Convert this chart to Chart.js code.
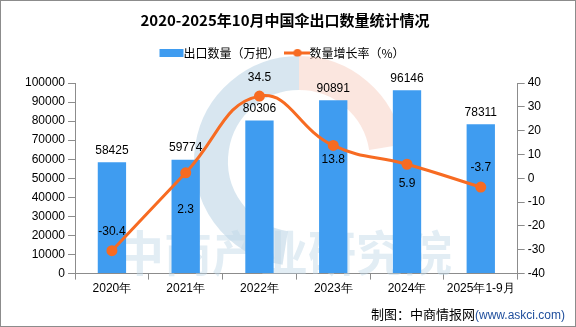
<!DOCTYPE html>
<html>
<head>
<meta charset="utf-8">
<script src="https://cdn.jsdelivr.net/npm/chart.js@4.4.1/dist/chart.umd.min.js"></script>
<style>
    body { margin: 0; background: #fff; }
    #wrap { position: relative; width: 574px; height: 325px; border: 1px solid #8c8c8c; }
    #foot { position: absolute; right: 10px; top: 303px; font: 13px "Noto Sans CJK SC", sans-serif; color: #000; }
    #foot span { color: #1f4e9c; font-family: "Liberation Sans", sans-serif; font-size: 12px; }
</style>
</head>
<body>
<div id="wrap">
    <canvas id="chart" width="574" height="325"></canvas>
    <div id="foot">制图：中商情报网<span>(www.askci.com)</span></div>
</div>
<script>
var categories = ['2020年', '2021年', '2022年', '2023年', '2024年', '2025年1-9月'];
var exportQty = [58425, 59774, 80306, 90891, 96146, 78311];
var growthRate = [-30.4, 2.3, 34.5, 13.8, 5.9, -3.7];
var leftTicks = [0, 100000, 10000];
var rightTicks = [-40, 40, 10];

// where each growth label sits relative to its point (px, negative = above)
var rateLabelShift = [-19, 37, -18, 14, 19, -19];

var barColor = '#3f9cf0';
var lineColor = '#f76b22';
var tickFont = { family: 'Liberation Sans', size: 12 };
var axisGrey = '#8c8c8c';

// little legend markers
function legendMark(isLine) {
    var cv = document.createElement('canvas');
    cv.width = 26;
    cv.height = 10;
    var g = cv.getContext('2d');
    if (isLine) {
        g.strokeStyle = lineColor;
        g.lineWidth = 3;
        g.beginPath();
        g.moveTo(0, 5);
        g.lineTo(26, 5);
        g.stroke();
        g.fillStyle = lineColor;
        g.beginPath();
        g.arc(13, 5, 4, 0, Math.PI * 2);
        g.fill();
    } else {
        g.fillStyle = barColor;
        g.fillRect(1, 1, 24, 8);
    }
    return cv;
}

var legendGap = {
    id: 'legendGap',
    beforeInit: function (chart) {
        var fit = chart.legend.fit;
        chart.legend.fit = function () {
            fit.bind(chart.legend)();
            this.height += 14;
        };
    }
};

var watermark = {
    id: 'watermark',
    beforeDatasetsDraw: function (chart) {
        var c = chart.ctx;
        c.save();
        c.lineWidth = 34;
        c.strokeStyle = 'rgba(190,214,230,0.6)';
        c.beginPath();
        c.arc(298, 160, 88, Math.PI * 0.55, Math.PI * 1.5);
        c.stroke();
        c.strokeStyle = 'rgba(248,210,196,0.55)';
        c.beginPath();
        c.arc(298, 160, 88, Math.PI * 1.5, Math.PI * 1.95);
        c.stroke();
        c.font = 'bold 48px "Noto Sans CJK SC"';
        c.fillStyle = 'rgba(190,214,230,0.45)';
        c.textAlign = 'center';
        c.textBaseline = 'middle';
        c.fillText('中商产业研究院', 283, 252);
        c.restore();
    }
};

var valueLabels = {
    id: 'valueLabels',
    afterDatasetsDraw: function (chart) {
        var c = chart.ctx;
        c.save();
        c.font = '12px "Liberation Sans"';
        c.fillStyle = '#000';
        c.textAlign = 'center';
        c.textBaseline = 'middle';
        chart.getDatasetMeta(0).data.forEach(function (bar, i) {
            c.fillText(exportQty[i], bar.x, bar.y - 12);
        });
        chart.getDatasetMeta(1).data.forEach(function (pt, i) {
            c.fillText(growthRate[i], pt.x, pt.y + rateLabelShift[i]);
        });
        c.restore();
    }
};

var ctx = document.getElementById('chart').getContext('2d');
new Chart(ctx, {
    data: {
        labels: categories,
        datasets: [{
            type: 'bar',
            label: '出口数量（万把）',
            data: exportQty,
            backgroundColor: barColor,
            yAxisID: 'y',
            categoryPercentage: 0.8,
            barPercentage: 0.48,
            order: 2
        }, {
            type: 'line',
            label: '数量增长率（%）',
            data: growthRate,
            borderColor: lineColor,
            backgroundColor: lineColor,
            borderWidth: 3,
            pointRadius: 4,
            pointHoverRadius: 4,
            tension: 0.45,
            yAxisID: 'y1',
            order: 1
        }]
    },
    options: {
        responsive: false,
        animation: false,
        layout: { padding: { left: 21, right: 27, top: 6, bottom: 28 } },
        plugins: {
            title: {
                display: true,
                text: '2020-2025年10月中国伞出口数量统计情况',
                color: '#000',
                font: { family: 'Noto Sans CJK SC', size: 15, weight: 'bold' },
                padding: { top: 4, bottom: 6 }
            },
            legend: {
                labels: {
                    color: '#000',
                    font: { family: 'Noto Sans CJK SC', size: 12 },
                    usePointStyle: true,
                    padding: 12,
                    sort: function (a, b) { return a.datasetIndex - b.datasetIndex; },
                    generateLabels: function (chart) {
                        var items = Chart.defaults.plugins.legend.labels.generateLabels(chart);
                        items.forEach(function (it) {
                            it.pointStyle = legendMark(it.datasetIndex === 1);
                        });
                        return items;
                    }
                }
            },
            tooltip: { enabled: false }
        },
        scales: {
            x: {
                grid: { drawOnChartArea: false, color: axisGrey, tickLength: 6, offset: true },
                border: { color: axisGrey },
                ticks: { color: '#000', font: tickFont, maxRotation: 0, padding: 2 }
            },
            y: {
                position: 'left',
                min: leftTicks[0],
                max: leftTicks[1],
                ticks: {
                    stepSize: leftTicks[2], color: '#000', font: tickFont, padding: 3,
                    callback: function (v) { return String(v); }
                },
                grid: { drawOnChartArea: false, color: axisGrey, tickLength: 7 },
                border: { color: axisGrey }
            },
            y1: {
                position: 'right',
                min: rightTicks[0],
                max: rightTicks[1],
                ticks: { stepSize: rightTicks[2], color: '#000', font: tickFont, padding: 3 },
                grid: { drawOnChartArea: false, color: axisGrey, tickLength: 7 },
                border: { color: axisGrey }
            }
        }
    },
    plugins: [legendGap, watermark, valueLabels]
});
</script>
</body>
</html>
